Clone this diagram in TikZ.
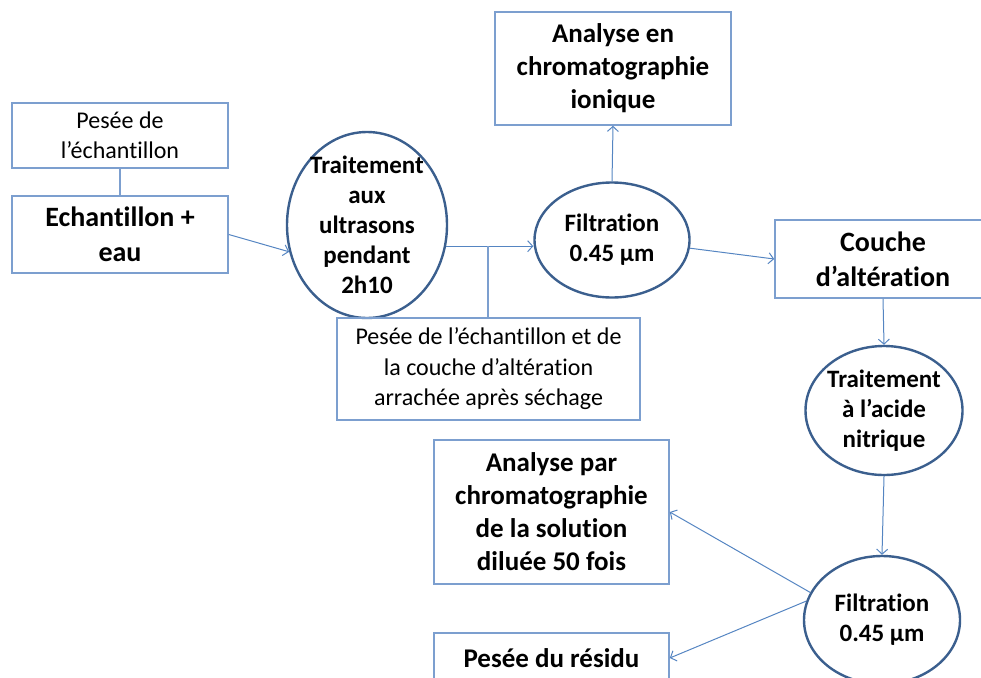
\documentclass[tikz,border=0pt]{standalone}
\usepackage{fontspec}
\setmainfont{Carlito}[Ligatures=NoCommon]
\usetikzlibrary{shapes.geometric,arrows.meta}
\definecolor{boitebleu}{HTML}{7C9FCF}
\definecolor{ovalbleu}{HTML}{3B5F8E}
\definecolor{flechebleu}{HTML}{5585C2}

\begin{document}
\begin{tikzpicture}[x=1pt, y=-1pt,
	boite/.style={rectangle, draw=boitebleu, line width=1.6pt, align=center, inner sep=0pt},
	ovale/.style={ellipse, draw=ovalbleu, line width=2.4pt, inner sep=0pt},
	fleche/.style={draw=flechebleu, line width=1pt, -{Straight Barb[length=5pt,width=11pt]}},
	lien/.style={draw=boitebleu, line width=2.4pt},
	gras/.style={font=\fontsize{27}{33}\selectfont\bfseries},
	grand/.style={font=\fontsize{28}{35}\selectfont\bfseries},
	maigre/.style={font=\fontsize{24}{30.5}\selectfont},
	texteovale/.style={font=\fontsize{25}{30}\selectfont\bfseries, align=center}]

\useasboundingbox (0,0) rectangle (981,677);

% Preparation
\node[boite, maigre, minimum width=216, minimum height=65] (pes1) at (120,135.5) {Pesée de\\l’échantillon};
\node[boite, grand, minimum width=216, minimum height=77] (ech) at (120,234.5) {Echantillon +\\eau};
\node[ovale, minimum width=160, minimum height=186,
	label={[texteovale]center:{Traitement\\aux\\ultrasons\\pendant\\2h10}}] (ultra) at (367,225) {};
\node[boite, maigre, minimum width=303, minimum height=102] (pes2) at (488.5,369) {Pesée de l’échantillon et de\\la couche d’altération\\arrachée après séchage};

% Premiere filtration
\node[ovale, minimum width=155, minimum height=115,
	label={[texteovale]center:{Filtration\\0.45 µm}}] (filt1) at (612,240) {};
\node[boite, gras, minimum width=236, minimum height=113] (ana1) at (613,68.5) {Analyse en\\chromatographie\\ionique};
\node[boite, grand, minimum width=216, minimum height=78] (couche) at (883,259) {Couche\\d’altération};

% Attaque acide
\node[ovale, minimum width=157, minimum height=129,
	label={[texteovale]center:{Traitement\\à l’acide\\nitrique}}] (nitr) at (884,410.5) {};
\node[ovale, minimum width=156, minimum height=128,
	label={[texteovale]center:{Filtration\\0.45 µm}}] (filt2) at (882,620) {};
\node[boite, gras, minimum width=235, minimum height=144] (ana2) at (551.5,512) {Analyse par\\chromatographie\\de la solution\\diluée 50 fois};
\node[boite, gras, minimum width=235, minimum height=50] (res) at (551.5,658) {Pesée du résidu};

% Liaisons
\draw[lien] (pes1.south) -- (ech.north);
\draw[fleche] (ech.east) -- (ultra.199);
\draw[fleche] (ultra.345) -- (ultra.345 -| filt1.west);
\coordinate (j) at (488,246);
\draw[lien] (j) -- (j |- pes2.north);
\draw[fleche] (filt1.north) -- (ana1.south);
\draw[fleche] (filt1.354) -- (couche.west);
\draw[fleche] (couche.south) -- (nitr.north);
\draw[fleche] (nitr.south) -- (filt2.north);
\draw[fleche] (filt2.159) -- (ana2.east);
\draw[fleche] (filt2.166) -- (res.east);
\end{tikzpicture}
\end{document}
